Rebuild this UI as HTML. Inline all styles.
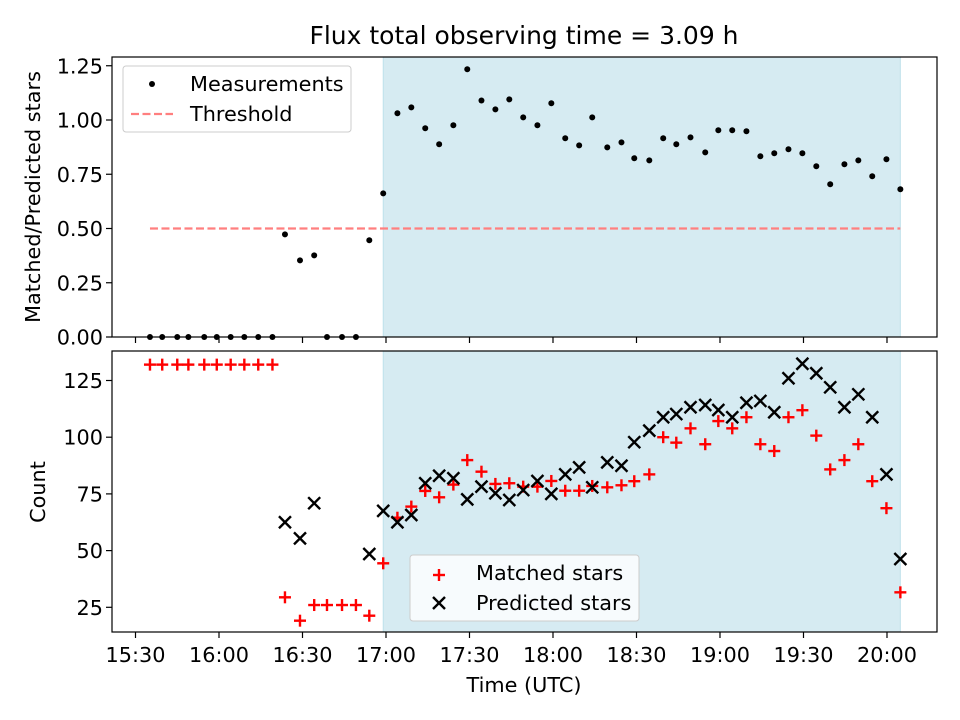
<!DOCTYPE html>
<html><head><meta charset="utf-8"><style>
body{margin:0;background:#fff;}
svg{display:block;font-family:"DejaVu Sans","Liberation Sans",sans-serif;}
</style></head><body>
<svg id="chart" width="960" height="720" viewBox="0 0 960 720"></svg>
<script>
// minutes since 15:30 UTC
const times=[5.2,9.6,15.0,19.0,24.7,29.2,34.2,39.1,44.1,49.2,53.7,59.1,64.2,68.8,74.2,79.2,84.0,89.0,94.1,99.1,104.1,109.1,114.2,119.2,124.3,129.3,134.3,139.3,144.4,149.4,154.4,159.4,164.1,169.5,174.6,179.2,184.6,189.6,194.3,199.4,204.7,209.4,214.4,219.5,224.5,229.5,234.6,239.6,244.6,249.6,254.7,259.7,264.7,269.8,274.8];
const ratio=[0,0,0,0,0,0,0,0,0,0,0.473,0.353,0.376,0,0,0,0.446,0.662,1.031,1.058,0.962,0.888,0.976,1.234,1.090,1.049,1.095,1.012,0.976,1.077,0.916,0.883,1.012,0.874,0.897,0.824,0.814,0.916,0.888,0.920,0.851,0.953,0.953,0.948,0.833,0.847,0.865,0.847,0.787,0.704,0.796,0.814,0.741,0.819,0.681];
const matched=[132,132,132,132,132,132,132,132,132,132,29.4,19.1,26,26,26,26,21.3,44.4,64.5,69.4,76.3,73.5,79.1,89.9,84.8,79.4,79.7,78.2,78.2,80.7,76.4,76.4,78.5,77.9,78.8,80.6,83.6,100.0,97.6,103.9,96.9,107.1,103.9,108.8,96.9,93.9,108.8,111.9,100.7,85.8,89.9,96.9,80.6,68.7,31.6];
const predicted=[null,null,null,null,null,null,null,null,null,null,62.5,55.4,70.9,null,null,null,48.5,67.5,62.5,65.7,79.7,83.0,81.9,72.6,78.2,75.3,72.3,76.7,80.7,75.0,83.6,86.7,77.9,88.9,87.4,97.8,102.9,108.8,110.2,113.2,114.2,112.0,108.8,115.2,116.0,111.0,126.0,132.4,128.2,122.0,113.2,118.9,108.8,83.6,46.3];
const threshold=0.5;
const shadeStart=89.0, shadeEnd=274.8;
const xTicks=[0,30,60,90,120,150,180,210,240,270];
const xTickLabels=["15:30","16:00","16:30","17:00","17:30","18:00","18:30","19:00","19:30","20:00"];
const topTicks=[0,0.25,0.5,0.75,1.0,1.25];
const topTickLabels=["0.00","0.25","0.50","0.75","1.00","1.25"];
const botTicks=[25,50,75,100,125];

const svg=document.getElementById('chart');
const NS='http://www.w3.org/2000/svg';
function mk(tag,attrs,parent,text){const e=document.createElementNS(NS,tag);for(const k in attrs)e.setAttribute(k,attrs[k]);if(text!==undefined)e.textContent=text;(parent||svg).appendChild(e);return e;}
const L=112,R=937,T1=57,B1=337,T2=351,B2=632;
const X=m=>135.5+m*2.7833;
const Y1=v=>337-v*217;
const Y2=v=>664-v*2.268;
const FS=20.8;

let s1=mk('rect',{x:X(shadeStart),y:T1,width:X(shadeEnd)-X(shadeStart),height:B1-T1,fill:'rgba(173,216,230,0.5)',stroke:'rgba(173,216,230,0.7)'});


let s2=mk('rect',{x:X(shadeStart),y:T2,width:X(shadeEnd)-X(shadeStart),height:B2-T2,fill:'rgba(173,216,230,0.5)',stroke:'rgba(173,216,230,0.7)'});



let th=mk('line',{x1:X(times[0]),x2:X(times[times.length-1]),y1:Y1(threshold),y2:Y1(threshold),stroke:'#ff7f7f','stroke-width':2.2,'stroke-dasharray':'8,3.5'});



times.forEach((t,i)=>{
  const c=mk('circle',{cx:X(t),cy:Y1(ratio[i]),r:3,fill:'#000'});
  
  
});
function plus(x,y,col){const g=mk('g',{stroke:col,'stroke-width':2.4});mk('line',{x1:x-6,x2:x+6,y1:y,y2:y},g);mk('line',{x1:x,x2:x,y1:y-6,y2:y+6},g);return g;}
function cross(x,y,col){const g=mk('g',{stroke:col,'stroke-width':2.4});mk('line',{x1:x-6,x2:x+6,y1:y-6,y2:y+6},g);mk('line',{x1:x-6,x2:x+6,y1:y+6,y2:y-6},g);return g;}
times.forEach((t,i)=>{
  const g=plus(X(t),Y2(matched[i]),'#ff0000');
  
  
});
times.forEach((t,i)=>{
  if(predicted[i]===null)return;
  const g=cross(X(t),Y2(predicted[i]),'#000');
  
  
});

let f1=mk('rect',{x:L,y:T1,width:R-L,height:B1-T1,fill:'none',stroke:'#000','stroke-width':1.2});


let f2=mk('rect',{x:L,y:T2,width:R-L,height:B2-T2,fill:'none',stroke:'#000','stroke-width':1.2});



xTicks.forEach((m,i)=>{
  const x=X(m);
  mk('line',{x1:x,x2:x,y1:B1,y2:B1+6,stroke:'#000','stroke-width':1.2});
  mk('line',{x1:x,x2:x,y1:B2,y2:B2+6,stroke:'#000','stroke-width':1.2});
  const t=mk('text',{x:x,y:B2+30,'font-size':FS,'text-anchor':'middle'},svg,xTickLabels[i]);
  
  
});
topTicks.forEach((v,i)=>{
  const y=Y1(v);
  mk('line',{x1:L-6,x2:L,y1:y,y2:y,stroke:'#000','stroke-width':1.2});
  const t=mk('text',{x:L-9,y:y+7.5,'font-size':FS,'text-anchor':'end'},svg,topTickLabels[i]);
  
  
});
botTicks.forEach(v=>{
  const y=Y2(v);
  mk('line',{x1:L-6,x2:L,y1:y,y2:y,stroke:'#000','stroke-width':1.2});
  const t=mk('text',{x:L-9,y:y+7.5,'font-size':FS,'text-anchor':'end'},svg,String(v));
  
  
});
</script>
<svg width="960" height="720" style="position:absolute;left:0;top:0;font-family:'DejaVu Sans','Liberation Sans',sans-serif">
<text x="524" y="44" font-size="25" text-anchor="middle">Flux total observing time = 3.09 h</text>
<text x="524" y="692" font-size="20.8" text-anchor="middle">Time (UTC)</text>
<text transform="translate(40,197) rotate(-90)" font-size="20.8" text-anchor="middle">Matched/Predicted stars</text>
<text transform="translate(45,492) rotate(-90)" font-size="20.8" text-anchor="middle">Count</text>
<g>
<rect x="123" y="66" width="228" height="66" rx="3" fill="rgba(255,255,255,0.8)" stroke="#ccc"/>
<circle cx="152" cy="84" r="3" fill="#000"/>
<text x="190" y="91" font-size="20.8">Measurements</text>
<line x1="131" x2="173" y1="114" y2="114" stroke="#ff7f7f" stroke-width="2.2" stroke-dasharray="8,3.5"/>
<text x="190" y="121" font-size="20.8">Threshold</text>
</g>
<g>
<rect x="410" y="555" width="229" height="66" rx="3" fill="rgba(255,255,255,0.8)" stroke="#ccc"/>
<g stroke="#f00" stroke-width="2.4"><line x1="433" x2="445" y1="575" y2="575"/><line x1="439" x2="439" y1="569" y2="581"/></g>
<text x="476" y="580" font-size="20.8">Matched stars</text>
<g stroke="#000" stroke-width="2.4"><line x1="433" x2="445" y1="597" y2="609"/><line x1="433" x2="445" y1="609" y2="597"/></g>
<text x="476" y="610" font-size="20.8">Predicted stars</text>
</g>
</svg>
</body></html>
